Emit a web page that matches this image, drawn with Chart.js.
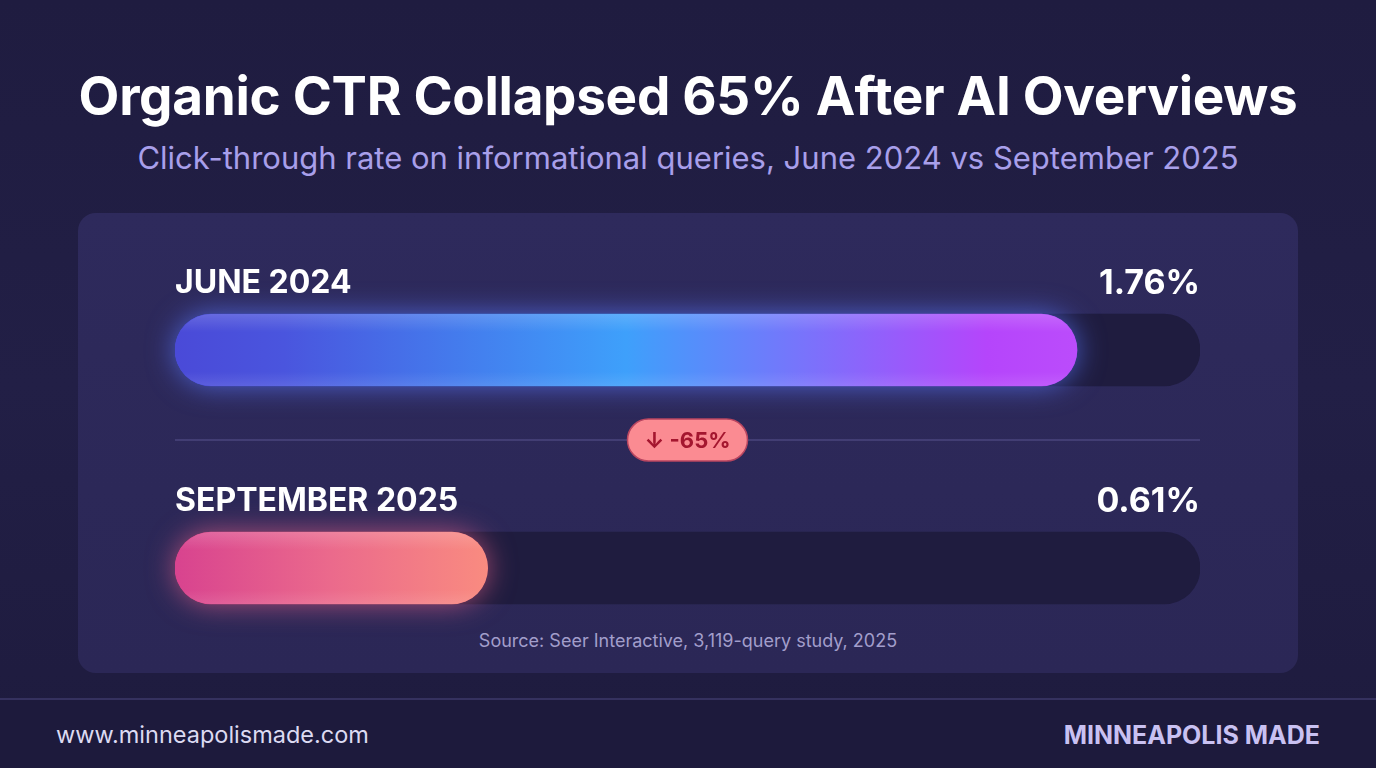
<!DOCTYPE html>
<html>
<head>
<meta charset="utf-8">
<script src="https://cdn.jsdelivr.net/npm/chart.js"></script>
<style>
  html, body { margin: 0; padding: 0; }
  body {
    width: 1376px; height: 768px; overflow: hidden; position: relative;
    background: linear-gradient(180deg, #1f1c40 0%, #221f46 50%, #1e1b3e 100%);
    font-family: Inter, "Noto Sans", sans-serif;
  }
  .title {
    position: absolute; left: 0; width: 1376px; top: 64px; text-align: center;
    color: #ffffff; font-size: 53px; font-weight: 700; letter-spacing: -0.3px; line-height: 64px;
  }
  .subtitle {
    position: absolute; left: 0; width: 1376px; top: 139px; text-align: center;
    color: #a89fea; font-size: 31px; font-weight: 400; line-height: 38px;
  }
  .card {
    position: absolute; left: 78px; top: 213px; width: 1220px; height: 460px;
    border-radius: 18px;
    background: linear-gradient(180deg, #2e2a5c 0%, #2c2858 60%, #2b2756 100%);
  }
  .source {
    position: absolute; left: 0; width: 1376px; top: 629px; text-align: center;
    color: #a29ecb; font-size: 18px; line-height: 24px;
  }
  .footline {
    position: absolute; left: 0; top: 698px; width: 1376px; height: 2px; background: #35315f;
  }
  .footer { position: absolute; background: #1d1a3c; left: 0; top: 700px; width: 1376px; height: 68px; }
  .url { position: absolute; left: 56px; top: 720px; color: #dcdaf2; font-size: 23.5px; line-height: 30px; }
  .brand { position: absolute; right: 56px; top: 720px; color: #c9c1f2; font-size: 25px; font-weight: 700; line-height: 30px; }
  canvas#chart { position: absolute; left: 0; top: 0; }
</style>
</head>
<body>
<div class="title">Organic CTR Collapsed 65% After AI Overviews</div>
<div class="subtitle">Click-through rate on informational queries, June 2024 vs September 2025</div>
<div class="card"></div>
<div class="footer"></div>
<div class="footline"></div>
<div class="source">Source: Seer Interactive, 3,119-query study, 2025</div>
<div class="url">www.minneapolismade.com</div>
<div class="brand">MINNEAPOLIS MADE</div>
<canvas id="chart" width="1376" height="768"></canvas>
<script>
// data
const periods = ["JUNE 2024", "SEPTEMBER 2025"];
const ctrValues = [1.76, 0.61];
const valueLabels = ["1.76%", "0.61%"];
const changeLabel = "↓ -65%";
const scaleMax = 2.0;

const gradStops = [
  [[0, "#4a4ad8"], [0.12, "#4a55de"], [0.5, "#3ea0fb"], [0.9, "#b545fb"], [1, "#bb4cfb"]],
  [[0, "#d8438f"], [0.5, "#eb6a8c"], [1, "#f98b80"]]
];
const glowColors = ["rgba(90,120,255,0.85)", "rgba(245,100,140,0.8)"];

function barGradient(ctx, index) {
  const chart = ctx.chart;
  const area = chart.chartArea;
  const xs = chart.scales.x;
  if (!area || !xs) return gradStops[index][0][1];
  const x0 = xs.getPixelForValue(0);
  const x1 = xs.getPixelForValue(ctrValues[index]);
  const g = chart.ctx.createLinearGradient(x0, 0, x1, 0);
  gradStops[index].forEach(([p, c]) => g.addColorStop(p, c));
  return g;
}

// glow under the value bars + labels + divider + badge
const decorPlugin = {
  id: "decor",
  beforeDatasetDraw(chart, args) {
    if (args.index !== 1) return;
    const ctx = chart.ctx;
    args.meta.data.forEach((bar, i) => {
      const h = bar.height;
      ctx.save();
      ctx.shadowColor = glowColors[i];
      ctx.shadowBlur = 28;
      ctx.fillStyle = glowColors[i];
      ctx.beginPath();
      ctx.roundRect(bar.base, bar.y - h / 2, bar.x - bar.base, h, h / 2);
      ctx.fill();
      ctx.restore();
    });
  },
  afterDatasetsDraw(chart) {
    const ctx = chart.ctx;
    const area = chart.chartArea;
    const meta = chart.getDatasetMeta(1);
    ctx.save();
    // soft highlight on the edges of each bar
    meta.data.forEach((bar) => {
      const h = bar.height;
      const g = ctx.createLinearGradient(0, bar.y - h / 2, 0, bar.y + h / 2);
      g.addColorStop(0, "rgba(255,255,255,0.16)");
      g.addColorStop(0.25, "rgba(255,255,255,0.0)");
      g.addColorStop(0.8, "rgba(255,255,255,0.0)");
      g.addColorStop(1, "rgba(255,255,255,0.10)");
      ctx.fillStyle = g;
      ctx.beginPath();
      ctx.roundRect(bar.base, bar.y - h / 2, bar.x - bar.base, h, h / 2);
      ctx.fill();
    });
    // labels
    ctx.fillStyle = "#ffffff";
    ctx.textBaseline = "middle";
    meta.data.forEach((bar, i) => {
      ctx.font = "700 32px Inter, 'Noto Sans', sans-serif";
      ctx.textAlign = "left";
      ctx.fillText(periods[i], area.left, bar.y - 67);
      ctx.font = "700 34px Inter, 'Noto Sans', sans-serif";
      ctx.textAlign = "right";
      ctx.fillText(valueLabels[i], area.right, bar.y - 66);
    });
    // divider
    const midY = (meta.data[0].y + meta.data[1].y) / 2 - 19;
    ctx.strokeStyle = "rgba(110,104,170,0.45)";
    ctx.lineWidth = 1.5;
    ctx.beginPath();
    ctx.moveTo(area.left, midY);
    ctx.lineTo(area.right, midY);
    ctx.stroke();
    // badge
    const cx = (area.left + area.right) / 2;
    const bw = 120, bh = 42;
    ctx.fillStyle = "#fb8b92";
    ctx.strokeStyle = "#b94660";
    ctx.lineWidth = 1.5;
    ctx.beginPath();
    ctx.roundRect(cx - bw / 2, midY - bh / 2, bw, bh, bh / 2);
    ctx.fill();
    ctx.stroke();
    ctx.fillStyle = "#a4162f";
    ctx.font = "700 22px Inter, 'Noto Sans', sans-serif";
    ctx.textAlign = "center";
    ctx.fillText(changeLabel, cx, midY + 1);
    ctx.restore();
  }
};

new Chart(document.getElementById("chart"), {
  type: "bar",
  data: {
    labels: periods,
    datasets: [
      {
        label: "track",
        data: periods.map(() => scaleMax),
        backgroundColor: "#1f1c3f",
        borderRadius: 36,
        borderSkipped: false,
        barThickness: 72,
        grouped: false,
        order: 2
      },
      {
        label: "CTR",
        data: ctrValues,
        backgroundColor: (ctx) => barGradient(ctx, ctx.dataIndex),
        borderRadius: 36,
        borderSkipped: false,
        barThickness: 72,
        grouped: false,
        order: 1
      }
    ]
  },
  options: {
    indexAxis: "y",
    responsive: false,
    animation: false,
    layout: { padding: { left: 175, right: 176, top: 241, bottom: 91 } },
    plugins: { legend: { display: false }, tooltip: { enabled: false } },
    scales: {
      x: { min: 0, max: scaleMax, display: false },
      y: { display: false }
    }
  },
  plugins: [decorPlugin]
});
</script>
</body>
</html>
